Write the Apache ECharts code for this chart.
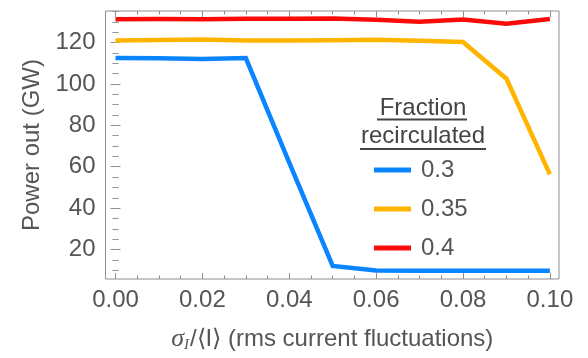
<!DOCTYPE html>
<html>
<head>
<meta charset="utf-8">
<script src="https://cdn.jsdelivr.net/npm/echarts@6/dist/echarts.min.js"></script>
<style>
  html, body { margin: 0; padding: 0; background: #fff; }
  #chart { width: 588px; height: 358px; }
</style>
</head>
<body>
<div id="chart"></div>
<script>
// rms current fluctuation levels (sigma_I / <I>)
const sigma = [0.00, 0.01, 0.02, 0.03, 0.04, 0.05, 0.06, 0.07, 0.08, 0.09, 0.10];

// power out (GW) for each recirculated fraction
const power03  = [112.5, 112.4, 112.0, 112.5, 62.0, 12.1, 9.9, 9.8, 9.8, 9.8, 9.8];
const power035 = [121.0, 121.2, 121.4, 120.9, 121.0, 121.1, 121.3, 120.8, 120.2, 102.5, 56.3];
const power04  = [131.2, 131.3, 131.2, 131.4, 131.5, 131.6, 131.0, 130.0, 131.1, 129.1, 131.3];

const seriesNames = ['0.3', '0.35', '0.4'];

// axis ticks
const xMajorTicks = [0.00, 0.02, 0.04, 0.06, 0.08, 0.10];
const xMinorTicks = [0.005, 0.01, 0.015, 0.025, 0.03, 0.035, 0.045, 0.05, 0.055,
                     0.065, 0.07, 0.075, 0.085, 0.09, 0.095];
const yMajorTicks = [20, 40, 60, 80, 100, 120];
const yMinorTicks = [10, 15, 25, 30, 35, 45, 50, 55, 65, 70, 75, 85, 90, 95,
                     105, 110, 115, 125, 130, 135];

const X_MIN = -0.0023, X_MAX = 0.1021;
const Y_MIN = 5.8, Y_MAX = 135.2;

const FONT = '"Liberation Sans", Arial, sans-serif';
const SERIF = '"Liberation Serif", "DejaVu Serif", serif';
const TEXT = '#555555';
const FRAME = '#8f8f8f';
const COLORS = ['#0a84ff', '#ffb400', '#fb0a0a'];

function tickAxis(kind, pos, ticks, len, labeled) {
  const base = {
    type: 'value',
    position: pos,
    min: kind === 'x' ? X_MIN : Y_MIN,
    max: kind === 'x' ? X_MAX : Y_MAX,
    axisLine: { show: false },
    splitLine: { show: false },
    axisTick: {
      show: true, inside: true, length: len, customValues: ticks,
      lineStyle: { color: FRAME, width: 1 }
    },
    axisLabel: { show: false }
  };
  if (labeled) {
    base.axisLabel = {
      show: true,
      customValues: ticks,
      fontFamily: FONT, fontSize: 24, color: TEXT,
      margin: kind === 'x' ? 9 : 10,
      formatter: kind === 'x' ? (v) => v.toFixed(2) : (v) => String(Math.round(v))
    };
  }
  return base;
}

const xMain = tickAxis('x', 'bottom', xMajorTicks, 6, true);
xMain.name = '{s|σ}{sub|I}{n|/⟨I⟩ (rms current fluctuations)}';
xMain.nameLocation = 'middle';
xMain.nameGap = 47;
xMain.nameTextStyle = {
  fontFamily: FONT, fontSize: 24, color: TEXT,
  rich: {
    s: { fontFamily: SERIF, fontStyle: 'italic', fontSize: 26, color: TEXT },
    sub: { fontFamily: SERIF, fontStyle: 'italic', fontSize: 15, color: TEXT, padding: [12, 1, 0, 0] },
    n: { fontFamily: FONT, fontSize: 24, color: TEXT }
  }
};

const yMain = tickAxis('y', 'left', yMajorTicks, 5, true);
yMain.name = 'Power out (GW)';
yMain.nameLocation = 'middle';
yMain.nameGap = 56;
yMain.nameTextStyle = { fontFamily: FONT, fontSize: 24, color: TEXT };

const option = {
  animation: false,
  backgroundColor: '#ffffff',
  grid: {
    left: 105.5, top: 11, right: 29, bottom: 67,
    show: true, borderColor: FRAME, borderWidth: 1, backgroundColor: 'transparent'
  },
  xAxis: [
    xMain,
    tickAxis('x', 'bottom', xMinorTicks, 3.5, false),
    tickAxis('x', 'top', xMajorTicks, 6, false),
    tickAxis('x', 'top', xMinorTicks, 3.5, false)
  ],
  yAxis: [
    yMain,
    tickAxis('y', 'left', yMinorTicks, 3, false),
    tickAxis('y', 'right', yMajorTicks, 5, false),
    tickAxis('y', 'right', yMinorTicks, 3, false)
  ],
  title: {
    text: 'Fraction\nrecirculated',
    left: 423, top: 94, textAlign: 'center', padding: 0,
    textStyle: { fontFamily: FONT, fontSize: 24, fontWeight: 'normal', color: '#444444', lineHeight: 28 }
  },
  graphic: [
    { type: 'rect', shape: { x: 377, y: 118.5, width: 90, height: 2 }, style: { fill: '#444444' } },
    { type: 'rect', shape: { x: 360, y: 148, width: 126, height: 2 }, style: { fill: '#444444' } }
  ],
  legend: {
    data: seriesNames.map((n) => ({ name: n, icon: 'rect' })),
    orient: 'vertical',
    left: 374, top: 158, padding: 0,
    itemWidth: 37, itemHeight: 5,
    itemGap: 15,
    textStyle: { fontFamily: FONT, fontSize: 24, color: TEXT, lineHeight: 24, padding: [0, 0, 0, 5] }
  },
  series: [power03, power035, power04].map((vals, i) => ({
    name: seriesNames[i],
    type: 'line',
    xAxisIndex: 0, yAxisIndex: 0,
    data: sigma.map((x, j) => [x, vals[j]]),
    symbol: 'none',
    color: COLORS[i],
    lineStyle: { width: 4.5, color: COLORS[i], join: 'miter' }
  }))
};

echarts.init(document.getElementById('chart'), null, { renderer: 'canvas' }).setOption(option);
</script>
</body>
</html>
